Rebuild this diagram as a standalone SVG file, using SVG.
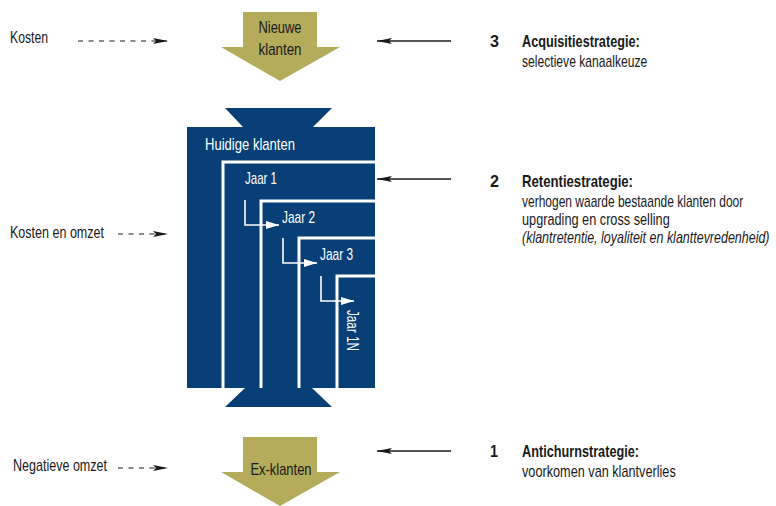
<svg xmlns="http://www.w3.org/2000/svg" width="776" height="506" viewBox="0 0 776 506">
<style>
text{font-family:"Liberation Sans","DejaVu Sans",sans-serif;font-size:17px;fill:#1a1a1a}
.w{fill:#ffffff}
.b{font-weight:bold}
.i{font-style:italic}
.gold{fill:#b4ab5b}
.blue{fill:#073f76}
.wl{fill:none;stroke:#ffffff;stroke-width:3}
.sa{fill:none;stroke:#ffffff;stroke-width:1.6}
.dash{fill:none;stroke:#1a1a1a;stroke-width:1.2;stroke-dasharray:5 5.5}
.sol{fill:none;stroke:#1a1a1a;stroke-width:1.4}
</style>
<defs>
<marker id="ah" viewBox="0 0 15 6" refX="15" refY="3" markerWidth="15" markerHeight="6" orient="auto" markerUnits="userSpaceOnUse">
<path d="M0,0 L15,3 L0,6 L3,3 z" fill="#1a1a1a"/>
</marker>
<marker id="wh" viewBox="0 0 13 8" refX="13" refY="4" markerWidth="13" markerHeight="8" orient="auto" markerUnits="userSpaceOnUse">
<path d="M0,0 L13,4 L0,8 z" fill="#ffffff"/>
</marker>
</defs>

<g id="nieuwe-klanten">
<path class="gold" d="M243,12 H317 V47 H340 L280,81 L221,47 H243 Z"/>
<text x="280" y="33" text-anchor="middle" textLength="43" lengthAdjust="spacingAndGlyphs">Nieuwe</text>
<text x="280" y="55" text-anchor="middle" textLength="43" lengthAdjust="spacingAndGlyphs">klanten</text>
</g>

<g id="huidige-klanten">
<path class="blue" d="M225,108 H332 L313,127 H375 V388 H312 L332,407 H225 L245,388 H187 V127 H243 Z"/>
<text class="w" x="205" y="150" textLength="90" lengthAdjust="spacingAndGlyphs">Huidige klanten</text>
</g>

<g id="jaar-1">
<polyline class="wl" points="223,388 223,162 375,162"/>
<text class="w" x="245" y="184" textLength="32" lengthAdjust="spacingAndGlyphs">Jaar 1</text>
</g>
<g id="jaar-2">
<polyline class="wl" points="261,388 261,201 375,201"/>
<text class="w" x="282" y="223" textLength="33" lengthAdjust="spacingAndGlyphs">Jaar 2</text>
</g>
<g id="jaar-3">
<polyline class="wl" points="299,388 299,238 375,238"/>
<text class="w" x="320" y="260" textLength="33" lengthAdjust="spacingAndGlyphs">Jaar 3</text>
</g>
<g id="jaar-1n">
<polyline class="wl" points="337,388 337,276 375,276"/>
<text class="w" transform="translate(347,310) rotate(90)" x="0" y="0" textLength="41" lengthAdjust="spacingAndGlyphs">Jaar 1N</text>
</g>

<g id="ex-klanten">
<path class="gold" d="M243,437 H317 V472 H340 L280,506 L221,472 H243 Z"/>
<text x="281" y="475" text-anchor="middle" textLength="61" lengthAdjust="spacingAndGlyphs">Ex-klanten</text>
</g>

<g id="labels-left">
<text x="10" y="43" textLength="38" lengthAdjust="spacingAndGlyphs">Kosten</text>
<text x="10" y="238" textLength="94" lengthAdjust="spacingAndGlyphs">Kosten en omzet</text>
<text x="13" y="471" textLength="94" lengthAdjust="spacingAndGlyphs">Negatieve omzet</text>
</g>

<g id="strategie-3">
<text x="490" y="47" class="b" textLength="9" lengthAdjust="spacingAndGlyphs">3</text>
<g transform="translate(522,0) scale(0.75,1)">
<text x="0" y="47" class="b" textLength="157" lengthAdjust="spacingAndGlyphs">Acquisitiestrategie:</text>
<text x="0" y="67" textLength="167" lengthAdjust="spacingAndGlyphs">selectieve kanaalkeuze</text>
</g>
</g>
<g id="strategie-2">
<text x="490" y="187" class="b" textLength="9" lengthAdjust="spacingAndGlyphs">2</text>
<g transform="translate(522,0) scale(0.75,1)">
<text x="0" y="187" class="b" textLength="148" lengthAdjust="spacingAndGlyphs">Retentiestrategie:</text>
<text x="0" y="207" textLength="295" lengthAdjust="spacingAndGlyphs">verhogen waarde bestaande klanten door</text>
<text x="0" y="225" textLength="197" lengthAdjust="spacingAndGlyphs">upgrading en cross selling</text>
<text x="0" y="243" class="i" textLength="330" lengthAdjust="spacingAndGlyphs">(klantretentie, loyaliteit en klanttevredenheid)</text>
</g>
</g>
<g id="strategie-1">
<text x="490" y="457" class="b" textLength="8" lengthAdjust="spacingAndGlyphs">1</text>
<g transform="translate(522,0) scale(0.75,1)">
<text x="0" y="457" class="b" textLength="156" lengthAdjust="spacingAndGlyphs">Antichurnstrategie:</text>
<text x="0" y="477" textLength="205" lengthAdjust="spacingAndGlyphs">voorkomen van klantverlies</text>
</g>
</g>

<g id="connectors">
<line class="dash" x1="78" y1="41" x2="168" y2="41" marker-end="url(#ah)"/>
<line class="dash" x1="118" y1="234" x2="168" y2="234" marker-end="url(#ah)"/>
<line class="dash" x1="118" y1="468" x2="168" y2="468" marker-end="url(#ah)"/>
<line class="sol" x1="451" y1="41" x2="377" y2="41" marker-end="url(#ah)"/>
<line class="sol" x1="451" y1="179" x2="377" y2="179" marker-end="url(#ah)"/>
<line class="sol" x1="451" y1="451" x2="377" y2="451" marker-end="url(#ah)"/>
<polyline class="sa" points="245,200 245,225 279,225" marker-end="url(#wh)"/>
<polyline class="sa" points="283,238 283,263 317,263" marker-end="url(#wh)"/>
<polyline class="sa" points="321,276 321,301 354,301" marker-end="url(#wh)"/>
</g>
</svg>
